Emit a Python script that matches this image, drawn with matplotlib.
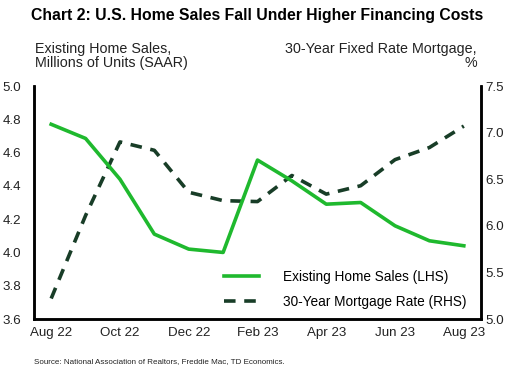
import matplotlib
matplotlib.use('Agg')
import matplotlib.pyplot as plt

plt.rcParams['font.family'] = ['Liberation Sans', 'DejaVu Sans']

# Monthly data, Aug 2022 - Aug 2023
months = ['Aug 22', 'Sep 22', 'Oct 22', 'Nov 22', 'Dec 22', 'Jan 23', 'Feb 23',
          'Mar 23', 'Apr 23', 'May 23', 'Jun 23', 'Jul 23', 'Aug 23']
home_sales = [4.77, 4.685, 4.44, 4.11, 4.02, 4.00, 4.555, 4.43, 4.29, 4.30, 4.16, 4.07, 4.04]
mortgage_rate = [5.22, 6.11, 6.90, 6.81, 6.36, 6.27, 6.26, 6.54, 6.34, 6.43, 6.71, 6.84, 7.07]

green = '#1fb92e'
dark = '#183d27'

fig = plt.figure(figsize=(5.15, 3.85), dpi=100)
ax = fig.add_axes([0.066, 0.1714, 0.868, 0.6052])
ax2 = ax.twinx()

x = list(range(len(months)))
l1, = ax.plot(x, home_sales, color=green, lw=2.6, label='Existing Home Sales (LHS)', zorder=3)
l2, = ax2.plot(x, mortgage_rate, color=dark, lw=2.6, ls=(0, (3.2, 2.4)),
               label='30-Year Mortgage Rate (RHS)')
ax.set_zorder(ax2.get_zorder() + 1)
ax.patch.set_visible(False)

ax.set_xlim(-0.5, 12.5)
ax.set_ylim(3.6, 5.0)
ax2.set_ylim(5.0, 7.5)
ax.set_yticks([3.6, 3.8, 4.0, 4.2, 4.4, 4.6, 4.8, 5.0])
ax.set_yticklabels(['%.1f' % v for v in ax.get_yticks()])
ax2.set_yticks([5.0, 5.5, 6.0, 6.5, 7.0, 7.5])
ax2.set_yticklabels(['%.1f' % v for v in ax2.get_yticks()])
ax.set_xticks(x[::2])
ax.set_xticklabels(months[::2])

for a in (ax, ax2):
    a.spines['top'].set_visible(False)
    for s in ('left', 'right', 'bottom'):
        a.spines[s].set_linewidth(1.8)
        a.spines[s].set_color('black')
    a.tick_params(length=0, labelsize=9.6, colors='#222222', pad=5)
ax.tick_params(axis='y', pad=9)
ax2.tick_params(axis='y', pad=3)
ax.tick_params(axis='x', pad=6)

ax.legend(handles=[l1, l2], loc='lower right', frameon=False, fontsize=9.8,
          handlelength=2.5, handletextpad=1.8, labelspacing=0.85,
          bbox_to_anchor=(0.995, -0.01))

fig.text(0.5, 0.96, 'Chart 2: U.S. Home Sales Fall Under Higher Financing Costs',
         ha='center', va='center', fontsize=11.3, fontweight='bold')
fig.text(0.068, 0.855, 'Existing Home Sales,\nMillions of Units (SAAR)',
         ha='left', va='center', fontsize=10.3, linespacing=1.0, color='#222222')
fig.text(0.926, 0.855, '30-Year Fixed Rate Mortgage,\n%',
         ha='right', va='center', fontsize=10.3, linespacing=1.0, color='#222222',
         multialignment='right')
fig.text(0.066, 0.06, 'Source: National Association of Realtors, Freddie Mac, TD Economics.',
         ha='left', va='center', fontsize=5.8, color='#222222')

fig.savefig('out.png', dpi=100)
